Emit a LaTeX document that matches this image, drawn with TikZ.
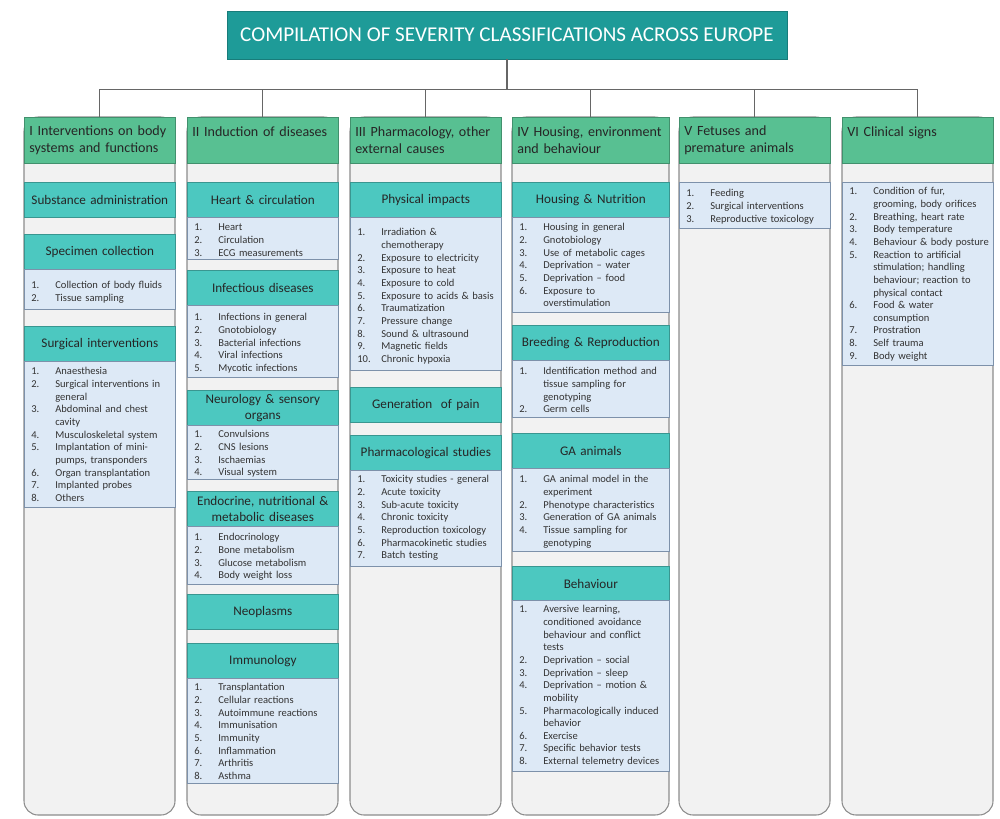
\documentclass[tikz,border=0pt]{standalone}
\usepackage{fontspec}
\setmainfont{Carlito}

\definecolor{titleteal}{RGB}{30,155,152}
\definecolor{hdrgreen}{RGB}{88,192,146}
\definecolor{subteal}{RGB}{76,200,192}
\definecolor{listblue}{RGB}{221,233,246}
\definecolor{colgrey}{RGB}{242,242,242}
\definecolor{framegrey}{RGB}{140,140,140}
\definecolor{listline}{RGB}{125,145,170}

\tikzset{
    titlebox/.style={fill=titleteal, draw=titleteal!80!black, text=white, minimum width=11.2cm, minimum height=0.96cm, font=\fontsize{12}{14}\selectfont},
    colframe/.style={draw=framegrey, fill=colgrey, rounded corners=8pt, line width=0.6pt},
    header/.style={fill=hdrgreen, draw=hdrgreen!75!black, anchor=north west, minimum height=0.92cm, inner xsep=0.1cm, inner ysep=0pt, align=left, font=\fontsize{8}{9.6}\selectfont, text=black!85},
    subhead/.style={fill=subteal, draw=subteal!75!black, anchor=north west, minimum height=0.7cm, inner sep=0pt, text width=3cm, align=center, font=\fontsize{7.5}{9.2}\selectfont, text=black!85},
    listbox/.style={fill=listblue, draw=listline, line width=0.5pt},
    listtext/.style={anchor=north west, inner xsep=0.14cm, inner ysep=0pt, text width=3.3cm, align=left, font=\fontsize{6}{7.2}\selectfont, text=black!80},
    tree/.style={draw=black!60, line width=0.6pt}
}

% numbered line, wrapped part hangs under the text
\newcommand{\itm}[2]{\par\begingroup\let\\\newline\lineskiplimit=-5pt
    \hangindent=0.48cm\hangafter=1\noindent\makebox[0.48cm][l]{\strut#1.}#2\par\endgroup}
% teal sub-heading: name, x, top, width, text
\newcommand{\subbox}[5]{\node[subhead, minimum width=#4] (#1) at (#2,#3) {#5};}
% blue list: name, left, right, top, bottom, first line, items
\newcommand{\itembox}[7]{%
    \draw[listbox] (#2,#4) rectangle (#3,#5);
    \node[listtext] (#1) at (#2,#6-8.2) {#7};}

\begin{document}
\begin{tikzpicture}[x=0.02cm, y=-0.02cm]
    \path[use as bounding box, fill=white] (0,0) rectangle (1000,818);

    \foreach \xa/\xb in {24/175,187/338,350/501,512/669,679/830,842/993}
        \draw[colframe] (\xa,117) rectangle (\xb,815);

    \node[titlebox] (title) at (507,35) {COMPILATION OF SEVERITY CLASSIFICATIONS ACROSS EUROPE};

    \node[header, minimum width=3.02cm, text width=2.82cm] (h1) at (24,117) {I Interventions on body\\systems and functions};
    \node[header, minimum width=3.02cm, text width=2.82cm] (h2) at (187,117) {II Induction of diseases\\\mbox{}};
    \node[header, minimum width=3.02cm, text width=2.82cm] (h3) at (350,117) {III Pharmacology, other\\external causes};
    \node[header, minimum width=3.14cm, text width=2.94cm] (h4) at (512,117) {IV Housing, environment\\and behaviour};
    \node[header, minimum width=3.02cm, text width=2.82cm] (h5) at (679,117) {V Fetuses and\\premature animals};
    \node[header, minimum width=3.02cm, text width=2.82cm] (h6) at (842,117) {VI Clinical signs\\\mbox{}};

    \foreach \h in {h1,h2,h3,h4,h5,h6}
        \draw[tree] (title.south) -- ++(0,30) -| (\h.north);

    % I
    \subbox{sa}{24}{182}{3.02cm}{Substance administration}
    \subbox{sc}{24}{234}{3.02cm}{Specimen collection}
    \itembox{scl}{24}{175}{269}{309}{284}{\itm{1}{Collection of body fluids}\itm{2}{Tissue sampling}}
    \subbox{si}{24}{326}{3.02cm}{Surgical interventions}
    \itembox{sil}{24}{175}{361}{507}{370}{\itm{1}{Anaesthesia}\itm{2}{Surgical interventions in\\general}\itm{3}{Abdominal and chest\\cavity}\itm{4}{Musculoskeletal system}\itm{5}{Implantation of mini-\\pumps, transponders}\itm{6}{Organ transplantation}\itm{7}{Implanted probes}\itm{8}{Others}}

    % II
    \subbox{hc}{187}{182}{3.02cm}{Heart \& circulation}
    \itembox{hcl}{187}{338}{217}{259}{226}{\itm{1}{Heart}\itm{2}{Circulation}\itm{3}{ECG measurements}}
    \subbox{id}{187}{270}{3.02cm}{Infectious diseases}
    \itembox{idl}{187}{338}{305}{377}{316}{\itm{1}{Infections in general}\itm{2}{Gnotobiology}\itm{3}{Bacterial infections}\itm{4}{Viral infections}\itm{5}{Mycotic infections}}
    \subbox{ns}{187}{390}{3.02cm}{Neurology \& sensory\\organs}
    \itembox{nsl}{187}{338}{425}{479}{433}{\itm{1}{Convulsions}\itm{2}{CNS lesions}\itm{3}{Ischaemias}\itm{4}{Visual system}}
    \subbox{en}{187}{491}{3.02cm}{Endocrine, nutritional \&\\metabolic diseases}
    \itembox{enl}{187}{338}{526}{584}{536}{\itm{1}{Endocrinology}\itm{2}{Bone metabolism}\itm{3}{Glucose metabolism}\itm{4}{Body weight loss}}
    \subbox{neo}{187}{594}{3.02cm}{Neoplasms}
    \subbox{im}{187}{643}{3.02cm}{Immunology}
    \itembox{iml}{187}{338}{678}{783}{686}{\itm{1}{Transplantation}\itm{2}{Cellular reactions}\itm{3}{Autoimmune reactions}\itm{4}{Immunisation}\itm{5}{Immunity}\itm{6}{Inflammation}\itm{7}{Arthritis}\itm{8}{Asthma}}

    % III
    \subbox{pi}{350}{182}{3.02cm}{Physical impacts}
    \itembox{pil}{350}{501}{217}{370}{231}{\itm{1}{Irradiation \&\\chemotherapy}\itm{2}{Exposure to electricity}\itm{3}{Exposure to heat}\itm{4}{Exposure to cold}\itm{5}{Exposure to acids \& basis}\itm{6}{Traumatization}\itm{7}{Pressure change}\itm{8}{Sound \& ultrasound}\itm{9}{Magnetic fields}\itm{10}{Chronic hypoxia}}
    \subbox{gp}{350}{387}{3.02cm}{Generation\ \ of pain}
    \subbox{ps}{350}{435}{3.02cm}{Pharmacological studies}
    \itembox{psl}{350}{501}{470}{566}{478}{\itm{1}{Toxicity studies - general}\itm{2}{Acute toxicity}\itm{3}{Sub-acute toxicity}\itm{4}{Chronic toxicity}\itm{5}{Reproduction toxicology}\itm{6}{Pharmacokinetic studies}\itm{7}{Batch testing}}

    % IV
    \subbox{hn}{512}{182}{3.14cm}{Housing \& Nutrition}
    \itembox{hnl}{512}{669}{217}{312}{226}{\itm{1}{Housing in general}\itm{2}{Gnotobiology}\itm{3}{Use of metabolic cages}\itm{4}{Deprivation \textendash\ water}\itm{5}{Deprivation \textendash\ food}\itm{6}{Exposure to\\overstimulation}}
    \subbox{br}{512}{325}{3.14cm}{Breeding \& Reproduction}
    \itembox{brl}{512}{669}{360}{417}{370}{\itm{1}{Identification method and\\tissue sampling for\\genotyping}\itm{2}{Germ cells}}
    \subbox{ga}{512}{433}{3.14cm}{GA animals}
    \itembox{gal}{512}{669}{468}{551}{478}{\itm{1}{GA animal model in the\\experiment}\itm{2}{Phenotype characteristics}\itm{3}{Generation of GA animals}\itm{4}{Tissue sampling for\\genotyping}}
    \subbox{bh}{512}{566}{3.14cm}{Behaviour}
    \itembox{bhl}{512}{669}{600}{771}{608}{\itm{1}{Aversive learning,\\conditioned avoidance\\behaviour and conflict\\tests}\itm{2}{Deprivation \textendash\ social}\itm{3}{Deprivation \textendash\ sleep}\itm{4}{Deprivation \textendash\ motion \&\\mobility}\itm{5}{Pharmacologically induced\\behavior}\itm{6}{Exercise}\itm{7}{Specific behavior tests}\itm{8}{External telemetry devices}}

    % V
    \itembox{fpl}{679}{830}{182}{228}{192}{\itm{1}{Feeding}\itm{2}{Surgical interventions}\itm{3}{Reproductive toxicology}}

    % VI
    \itembox{csl}{842}{993}{182}{365}{190}{\itm{1}{Condition of fur,\\grooming, body orifices}\itm{2}{Breathing, heart rate}\itm{3}{Body temperature}\itm{4}{Behaviour \& body posture}\itm{5}{Reaction to artificial\\stimulation; handling\\behaviour; reaction to\\physical contact}\itm{6}{Food \& water\\consumption}\itm{7}{Prostration}\itm{8}{Self trauma}\itm{9}{Body weight}}
\end{tikzpicture}
\end{document}
